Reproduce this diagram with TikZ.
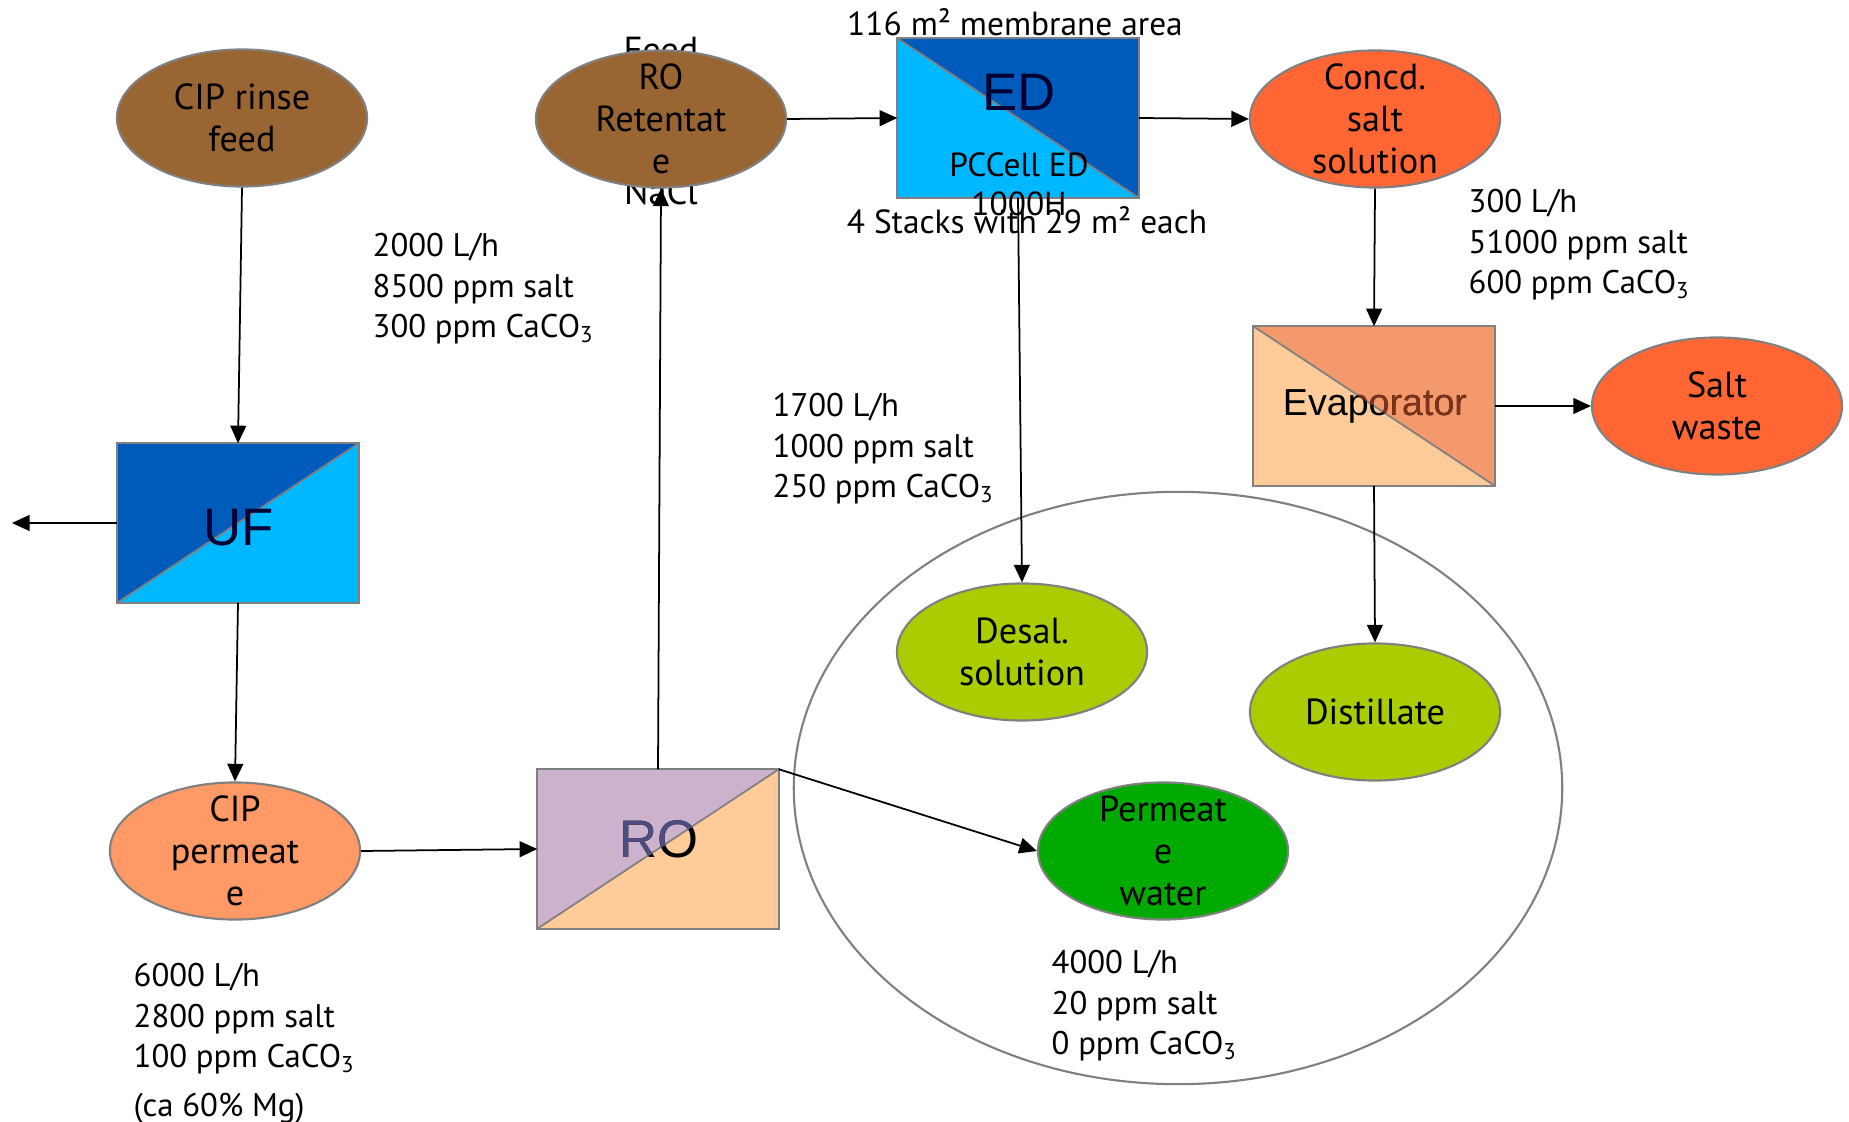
\documentclass[tikz,border=0pt]{standalone}
\usepackage{fontspec}
\setmainfont{PT Sans}
\newfontfamily\arialfont{Liberation Sans}
\usepackage{tikz}
\usetikzlibrary{shapes.geometric,arrows.meta}

\definecolor{brownfill}{HTML}{996633}
\definecolor{ufdark}{HTML}{005BBB}
\definecolor{uflight}{HTML}{00B8FF}
\definecolor{navy}{HTML}{000033}
\definecolor{rolilac}{HTML}{CCB2CC}
\definecolor{roslate}{HTML}{4D4D80}
\definecolor{peach}{HTML}{FFCC99}
\definecolor{evaporange}{HTML}{F4996B}
\definecolor{evapbrown}{HTML}{7F3319}
\definecolor{saltorange}{HTML}{FF6633}
\definecolor{cipperm}{HTML}{FF9966}
\definecolor{lime}{HTML}{AACC00}
\definecolor{permgreen}{HTML}{00AA00}

\begin{document}
\begin{tikzpicture}[x=0.01cm,y=-0.01cm,
	flow/.style={-{Triangle[length=5pt,width=4.5pt]},line width=0.5pt},
	stream/.style={ellipse,draw=gray,line width=0.6pt,minimum width=2.5cm,minimum height=1.37cm,inner sep=0pt,align=center,font=\fontsize{10.3}{12}\selectfont},
	threeline/.style={inner ysep=-4pt},
	unit/.style={rectangle,minimum width=2.4cm,minimum height=1.58cm,inner sep=0pt},
	biglbl/.style={inner sep=0pt,font=\arialfont\fontsize{15}{17}\selectfont},
	note/.style={inner sep=0pt,font=\fontsize{9.5}{11.4}\selectfont},
	data/.style={anchor=north west,align=left,inner sep=0pt,font=\fontsize{9.3}{11.4}\selectfont}]
	\useasboundingbox (0,0) rectangle (1849,1122);

	\draw[gray,line width=0.6pt] (1178,788) ellipse [x radius=3.84cm,y radius=2.96cm];

	\node[note,font=\fontsize{10.3}{12}\selectfont] (feedlbl) at (661,50) {Feed};
	\node[note,font=\fontsize{10.3}{12}\selectfont] (nacllbl) at (661,192) {NaCl};

	\node[stream,fill=brownfill] (rinse) at (242,118) {CIP rinse\\feed};
	\node[stream,threeline,fill=brownfill] (ret) at (661,119) {RO\\Retentat\\e};
	\node[stream,threeline,fill=saltorange] (concd) at (1375,119) {Concd.\\salt\\solution};
	\node[stream,fill=saltorange] (salt) at (1717,406) {Salt\\waste};
	\node[stream,threeline,fill=cipperm] (cipperm) at (235,851) {CIP\\permeat\\e};
	\node[stream,fill=lime] (desal) at (1022,652) {Desal.\\solution};
	\node[stream,fill=lime] (dist) at (1375,712) {Distillate};
	\node[stream,threeline,fill=permgreen] (perm) at (1163,851) {Permeat\\e\\water};

	\node[unit] (uf) at (238,523) {};
	\fill[ufdark] (uf.south west) -- (uf.north west) -- (uf.north east) -- cycle;
	\fill[uflight] (uf.south west) -- (uf.south east) -- (uf.north east) -- cycle;
	\draw[gray,line width=0.5pt] (uf.south west) -- (uf.north east);
	\draw[gray,line width=0.7pt] (uf.south west) rectangle (uf.north east);
	\node[biglbl,text=navy] (uflbl) at (239,528) {UF};

	\node[unit] (ed) at (1018,118) {};
	\fill[uflight] (ed.north west) -- (ed.south west) -- (ed.south east) -- cycle;
	\fill[ufdark] (ed.north west) -- (ed.north east) -- (ed.south east) -- cycle;
	\draw[gray,line width=0.5pt] (ed.north west) -- (ed.south east);
	\draw[gray,line width=0.7pt] (ed.south west) rectangle (ed.north east);
	\node[biglbl,text=navy] (edlbl) at (1019,92) {ED};
	\node[note,align=center,font=\fontsize{9.5}{11}\selectfont] (edtype) at (1019,184) {PCCell ED\\1000H};

	\node[unit] (evap) at (1374,406) {};
	\fill[peach] (evap.north west) -- (evap.south west) -- (evap.south east) -- cycle;
	\fill[evaporange] (evap.north west) -- (evap.north east) -- (evap.south east) -- cycle;
	\draw[gray,line width=0.5pt] (evap.north west) -- (evap.south east);
	\draw[gray,line width=0.7pt] (evap.south west) rectangle (evap.north east);
	\node[biglbl,font=\arialfont\fontsize{10.7}{13}\selectfont] (evaplbl) at (1375,406) {Evaporator};
	\begin{scope}
		\clip (evap.north west) -- (evap.north east) -- (evap.south east) -- cycle;
		\node[biglbl,font=\arialfont\fontsize{10.7}{13}\selectfont,text=evapbrown] (evaplbltop) at (1375,406) {Evaporator};
	\end{scope}

	\node[unit] (ro) at (658,849) {};
	\fill[rolilac] (ro.south west) -- (ro.north west) -- (ro.north east) -- cycle;
	\fill[peach] (ro.south west) -- (ro.south east) -- (ro.north east) -- cycle;
	\draw[gray,line width=0.5pt] (ro.south west) -- (ro.north east);
	\draw[gray,line width=0.7pt] (ro.south west) rectangle (ro.north east);
	\node[biglbl] (rolbl) at (659,839) {RO};
	\begin{scope}
		\clip (ro.south west) -- (ro.north west) -- (ro.north east) -- cycle;
		\node[biglbl,text=roslate] (rolbltop) at (659,839) {RO};
	\end{scope}

	\coordinate (ufout) at (12,523);
	\foreach \a/\b in {rinse.south/uf.north, uf.south/cipperm.north, cipperm.east/ro.west,
		ro.north/ret.south, ret.east/ed.west, ed.east/concd.west, ed.south/desal.north,
		concd.south/evap.north, evap.east/salt.west, evap.south/dist.north,
		ro.north east/perm.west, uf.west/ufout}
		\draw[flow] (\a) -- (\b);

	\node[note] (arealbl) at (1015,22) {116 m² membrane area};
	\node[note] (stacklbl) at (1027,220) {4 Stacks with 29 m² each};

	\node[data] (feeddata) at (372,233) {2000 L/h\\8500 ppm salt\\300 ppm CaCO\textsubscript{3}};
	\node[data] (eddata) at (772,393) {1700 L/h\\1000 ppm salt\\250 ppm CaCO\textsubscript{3}};
	\node[data] (concdata) at (1468,189) {300 L/h\\51000 ppm salt\\600 ppm CaCO\textsubscript{3}};
	\node[data] (cipdata) at (133,963) {6000 L/h\\2800 ppm salt\\100 ppm CaCO\textsubscript{3}\\[2.5pt](ca 60\% Mg)};
	\node[data] (permdata) at (1051,950) {4000 L/h\\20 ppm salt\\0 ppm CaCO\textsubscript{3}};
\end{tikzpicture}
\end{document}
